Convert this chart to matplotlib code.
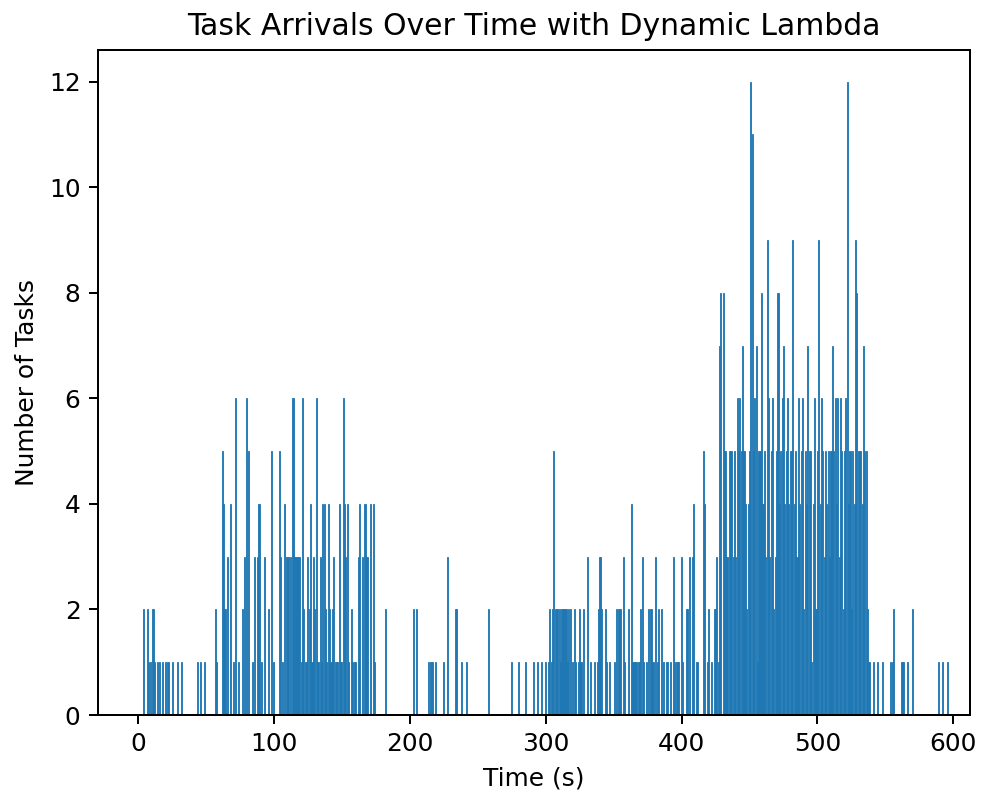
import matplotlib.pyplot as plt

# arrivals per second (only seconds with at least one task)
times_low = [4, 7, 8, 9, 11, 12, 14, 16, 18, 20, 22, 25, 29, 32, 44, 46, 49]
counts_low = [2, 2, 1, 1, 2, 1, 1, 1, 1, 1, 1, 1, 1, 1, 1, 1, 1]

times_burst1 = [57, 58, 62, 63, 64, 66, 68, 70, 72, 74, 77, 78, 80, 81, 84,
                86, 88, 89, 91, 93, 96, 98, 100, 104, 105, 106,
                108, 109, 110, 111, 112, 114, 115, 116, 117, 118, 119, 120,
                121, 122, 123, 124, 125, 126, 127, 128, 129, 130, 131, 132,
                133, 134, 135, 136, 137, 138, 139, 140, 141, 142, 143, 144,
                145, 146, 147, 148, 149, 150, 151, 152, 153, 154, 155, 157,
                158, 159, 160, 162, 163, 165, 167, 168, 169, 171, 173, 174]
counts_burst1 = [2, 1, 5, 4, 2, 3, 4, 1, 6, 1, 2, 3, 6, 5, 1,
                 3, 3, 4, 1, 3, 2, 5, 1, 5, 3, 1,
                 4, 3, 3, 3, 3, 6, 3, 3, 3, 3, 3, 1,
                 6, 2, 1, 1, 3, 2, 4, 1, 3, 2, 6, 1,
                 1, 3, 1, 4, 4, 2, 1, 4, 2, 1, 2, 3,
                 1, 1, 1, 4, 1, 1, 6, 4, 3, 4, 1, 2,
                 1, 1, 1, 3, 4, 3, 4, 3, 3, 4, 4, 1]

times_quiet = [182, 203, 205, 214, 215, 216, 217, 219, 225, 228, 234, 238,
               242, 258, 275, 280, 285, 291, 294, 297, 300]
counts_quiet = [2, 2, 2, 1, 1, 1, 1, 1, 1, 3, 2, 1,
                1, 2, 1, 1, 1, 1, 1, 1, 1]

times_ramp = [302, 303, 304, 305, 306, 307, 308, 309, 310, 311, 312, 313,
              314, 315, 316, 317, 318, 320, 321, 322, 324, 325, 326, 328,
              331, 333, 336, 338, 339, 340, 341, 344, 345, 347, 351, 352,
              354, 355, 357, 358, 361, 363, 364, 365, 366, 367, 368, 369,
              370, 371, 372, 374, 376, 377, 378, 379, 381, 382, 383, 385,
              387, 389, 390, 392, 394, 395, 396, 397, 398, 400, 401, 404,
              406, 408, 409, 411, 412, 416, 417, 419, 420, 422, 424, 425,
              426, 427, 428, 429, 431, 432, 433, 434]
counts_ramp = [1, 2, 1, 2, 5, 2, 2, 2, 2, 1, 2, 2,
               2, 2, 1, 2, 2, 1, 2, 1, 1, 2, 1, 2,
               3, 1, 1, 1, 2, 3, 2, 2, 1, 1, 1, 2,
               2, 2, 3, 1, 2, 4, 1, 1, 1, 1, 1, 1,
               2, 3, 1, 1, 2, 2, 2, 1, 3, 1, 2, 2,
               1, 1, 1, 1, 3, 1, 1, 1, 1, 3, 1, 2,
               3, 3, 4, 1, 1, 5, 4, 1, 2, 1, 2, 2,
               3, 1, 7, 8, 8, 5, 3, 3]

times_peak = list(range(435, 539))
counts_peak = [5, 5, 5, 3, 5, 3, 6, 5, 6, 5, 7, 5, 4, 2, 4, 5, 12, 11, 5, 6,
               7, 1, 5, 5, 8, 4, 5, 3, 9, 6, 3, 5, 6, 2, 3, 5, 8, 4, 5, 6,
               7, 4, 5, 6, 4, 5, 5, 9, 4, 5, 3, 6, 4, 5, 6, 2, 5, 4, 7, 5,
               5, 1, 4, 6, 2, 5, 9, 4, 6, 5, 3, 5, 4, 5, 3, 5, 7, 5, 6, 4,
               6, 3, 6, 5, 2, 5, 6, 12, 4, 5, 2, 5, 4, 9, 8, 5, 5, 5, 4, 7,
               5, 5, 2, 1]

times_tail = [541, 544, 548, 554, 555, 556, 562, 563, 566, 570, 589, 592, 596]
counts_tail = [1, 1, 1, 1, 1, 2, 1, 1, 1, 2, 1, 1, 1]

times = times_low + times_burst1 + times_quiet + times_ramp + times_peak + times_tail
counts = counts_low + counts_burst1 + counts_quiet + counts_ramp + counts_peak + counts_tail

dpi = 179
fig = plt.figure(figsize=(985 / dpi, 795 / dpi), dpi=dpi)
ax = fig.add_axes([0.0995, 0.1006, 0.8855, 0.8365])

ax.bar(times, counts, width=0.8, color='#1f77b4',
       edgecolor='#1f77b4', linewidth=0.35)
ax.set_xlim(-29.5, 612.5)
ax.set_ylim(0, 12.6)
ax.set_xlabel('Time (s)')
ax.set_ylabel('Number of Tasks')
ax.set_title('Task Arrivals Over Time with Dynamic Lambda')

fig.savefig('out.png', dpi=dpi)
